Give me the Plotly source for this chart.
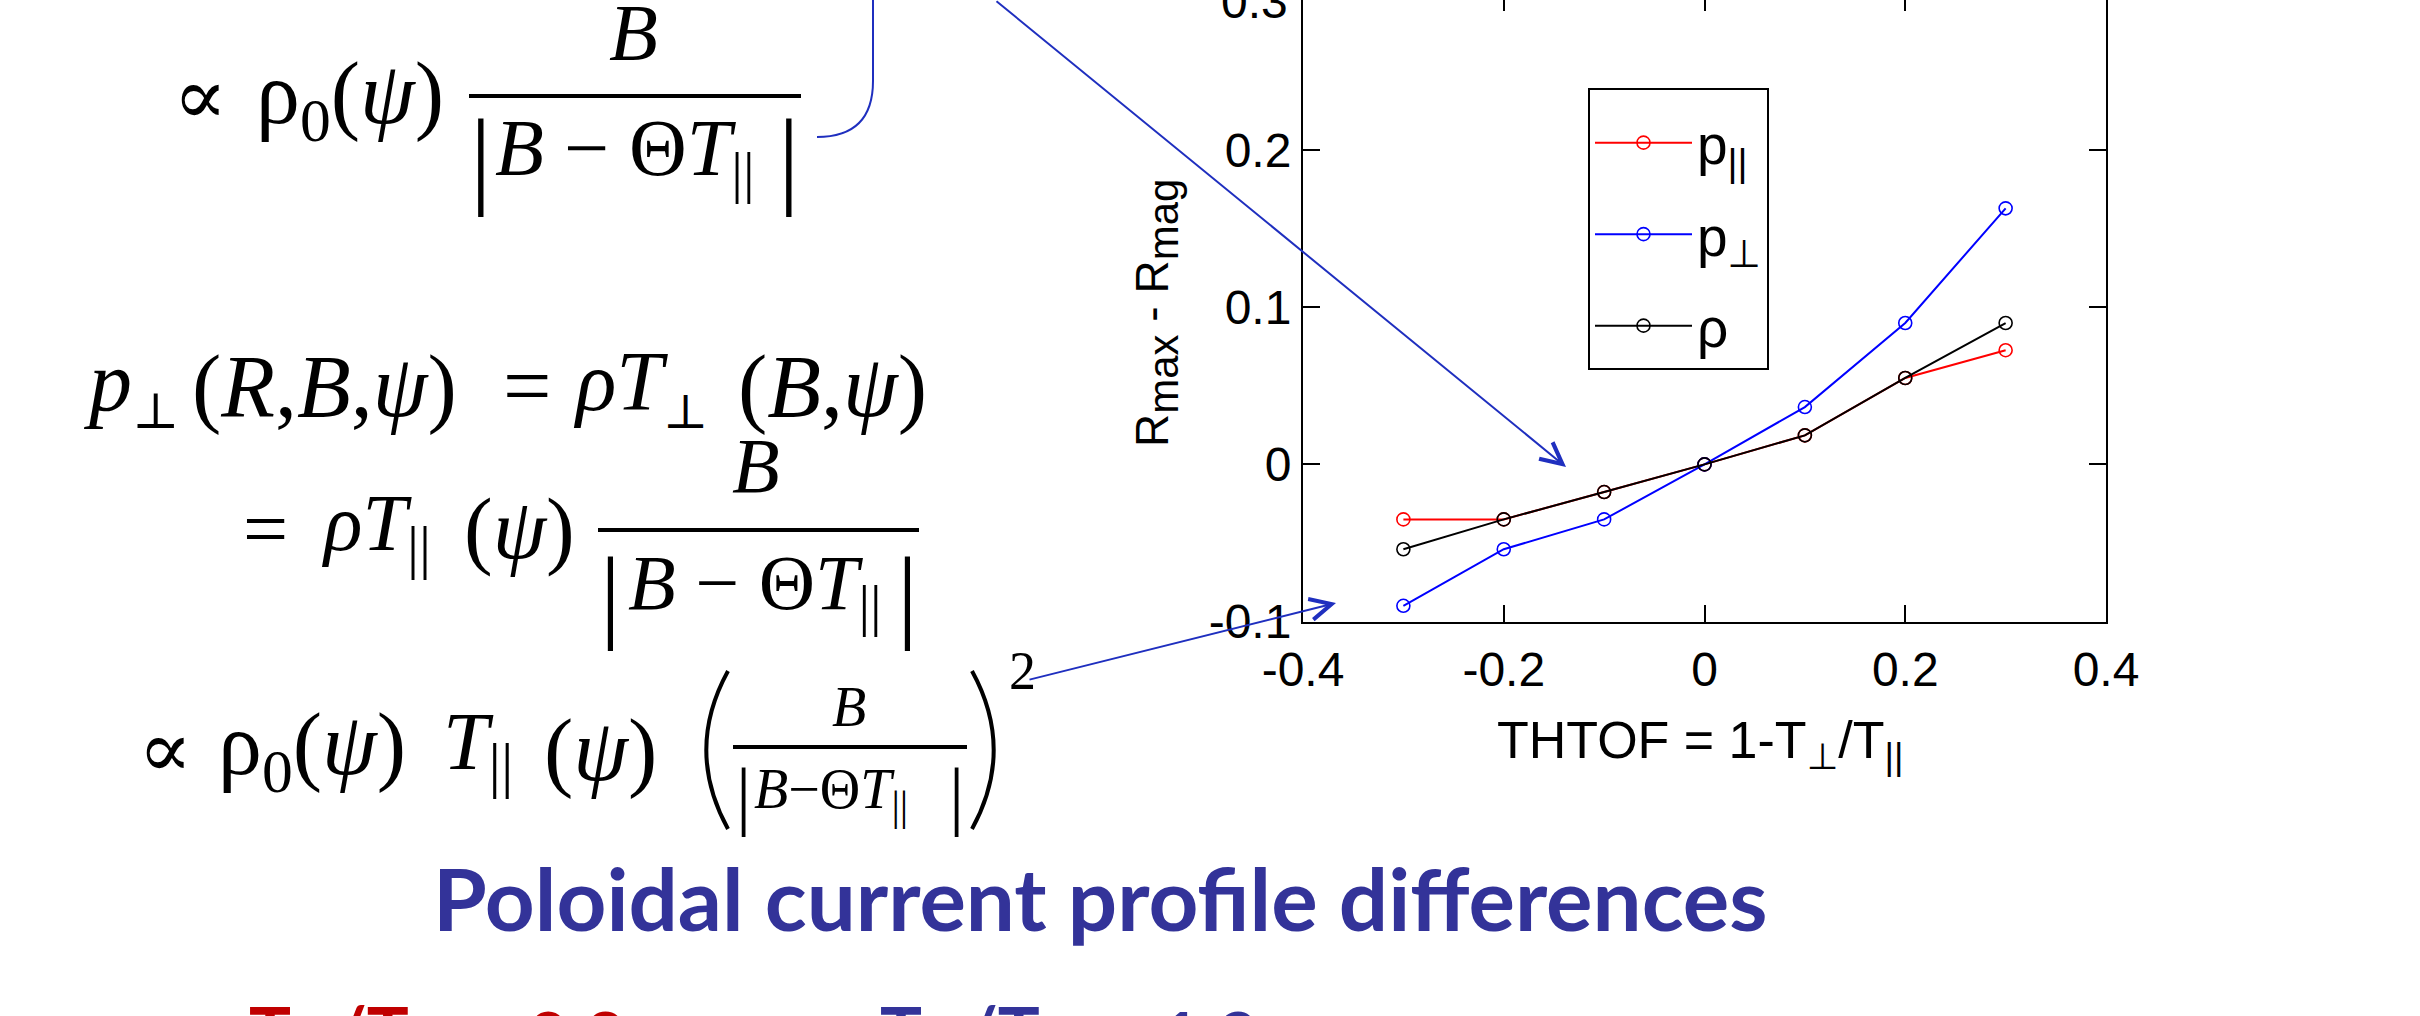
import plotly.graph_objects as go

# THTOF scan: R_max - R_mag for the three profiles
thtof = [-0.3, -0.2, -0.1, 0.0, 0.1, 0.2, 0.3]
r_ppar = [-0.035, -0.035, -0.0176, 0.0, 0.0185, 0.055, 0.0727]
r_pperp = [-0.090, -0.054, -0.035, 0.0, 0.0365, 0.090, 0.163]
r_rho = [-0.054, -0.035, -0.0176, 0.0, 0.0185, 0.055, 0.090]

series_names = ["p<sub>||</sub>", "p<sub>⊥</sub>", "ρ"]
series_colors = ["#ff0000", "#0000ff", "#000000"]

x_ticks = [-0.4, -0.2, 0.0, 0.2, 0.4]
x_ticktext = ["-0.4", "-0.2", "0", "0.2", "0.4"]
y_ticks = [-0.1, 0.0, 0.1, 0.2]
y_ticktext = ["-0.1", "0", "0.1", "0.2"]

W, H = 2420, 1016


def PX(x):
    return x / W


def PY(y):
    return 1 - y / H


SANS = "Liberation Sans, Arial, DejaVu Sans, sans-serif"
SERIF = "Liberation Serif, Times New Roman, DejaVu Serif, serif"
HEAD = "Lato, Liberation Sans, sans-serif"
ARROW_BLUE = "#1f2fbf"
TITLE_BLUE = "#333399"

fig = go.Figure()
for i, (name, ys, col) in enumerate(zip(series_names, [r_ppar, r_pperp, r_rho], series_colors)):
    fig.add_trace(go.Scatter(
        x=thtof, y=ys, name=name, mode="lines+markers", legendgroup=f"g{i}",
        line=dict(color=col, width=2),
        marker=dict(symbol="circle-open", size=13, color=col, line=dict(width=1.6, color=col)),
    ))
# companion axes for the top/right box ticks
fig.add_trace(go.Scatter(x=[], y=[], xaxis="x2", yaxis="y2", showlegend=False, hoverinfo="skip"))

x_dom = [PX(1303), PX(2106)]
y_dom = [PY(621.5), 1.0]
y_range = [-0.1, -0.1 + 621.5 / 1571.0]

tickfont = dict(family=SANS, size=48, color="black")
fig.update_layout(
    width=W, height=H,
    margin=dict(l=0, r=0, t=0, b=0),
    paper_bgcolor="white", plot_bgcolor="white",
    showlegend=True,
    legend=dict(
        x=PX(1588), y=PY(88), xanchor="left", yanchor="top",
        bordercolor="black", borderwidth=2, bgcolor="white",
        font=dict(family=SANS, size=55, color="black"),
        title=dict(text=" ", font=dict(size=8)),
        itemwidth=97, traceorder="grouped", tracegroupgap=17,
    ),
    xaxis=dict(
        domain=x_dom, range=[-0.4, 0.4], anchor="y",
        tickvals=x_ticks, ticktext=x_ticktext, tickfont=tickfont,
        ticks="inside", ticklen=17, tickwidth=2, tickcolor="black",
        showline=True, linecolor="black", linewidth=2,
        showgrid=False, zeroline=False, automargin=False,
        ticklabelstandoff=5,
    ),
    yaxis=dict(
        domain=y_dom, range=y_range, anchor="x",
        tickvals=y_ticks, ticktext=y_ticktext, tickfont=tickfont,
        ticks="inside", ticklen=17, tickwidth=2, tickcolor="black",
        showline=True, linecolor="black", linewidth=2,
        showgrid=False, zeroline=False, automargin=False,
        ticklabelstandoff=0,
    ),
    xaxis2=dict(
        overlaying="x", side="top", anchor="y2", range=[-0.4, 0.4],
        tickvals=x_ticks, showticklabels=False,
        ticks="inside", ticklen=11, tickwidth=2, tickcolor="black",
        showline=False, showgrid=False, zeroline=False, automargin=False,
    ),
    yaxis2=dict(
        overlaying="y", side="right", anchor="x2", range=y_range,
        tickvals=y_ticks, showticklabels=False,
        ticks="inside", ticklen=17, tickwidth=2, tickcolor="black",
        showline=True, linecolor="black", linewidth=2,
        showgrid=False, zeroline=False, automargin=False,
    ),
)

ann = []


def T(x, y, text, size, family=SERIF, color="black", xa="left", ya="middle", angle=0):
    ann.append(dict(
        x=PX(x), y=PY(y), xref="paper", yref="paper", text=text,
        showarrow=False, xanchor=xa, yanchor=ya, textangle=angle,
        font=dict(family=family, size=size, color=color),
    ))


def sub(s, px):
    return f"<sub><span style='font-size:{px}px'>{s}</span></sub>"


# axis titles and clipped top tick label
T(1290, 1, "0.3", 48, family=SANS, xa="right")
T(1156, 313, "R" + sub("max", 42) + " - R" + sub("mag", 42), 46, family=SANS, xa="center", angle=-90)
T(1700, 744, "THTOF = 1-T<sub><span style='color:#000000'>⊥</span></sub>/T<sub>||</sub>", 52,
  family=SANS, xa="center")

# first expression: ∝ ρ0(ψ) B/|B − ΘT||
T(200, 97, "∝", 80, xa="center")
T(254, 99, "ρ<sub>0</sub>(<i>ψ</i>)", 88)
T(633, 33, "<i>B</i>", 80, xa="center")
T(481, 158, "|", 108, xa="center")
T(789, 158, "|", 108, xa="center")
T(493, 155, "<i>B</i> − Θ<i>T</i>" + sub("||", 58), 80)

# p⊥ (R,B,ψ) = ρT⊥ (B,ψ)
T(81, 386, "<i>p</i>" + sub("⊥", 50), 86)
T(190, 386, "(<i>R</i>,<i>B</i>,<i>ψ</i>)", 88)
T(527, 386, "=", 86, xa="center")
T(571, 386, "<i>ρT</i>" + sub("⊥", 48), 84)
T(736, 386, "(<i>B</i>,<i>ψ</i>)", 88)

# = ρT||(ψ) B/|B − ΘT||
T(265, 529, "=", 80, xa="center")
T(319, 529, "<i>ρT</i>" + sub("||", 60), 80)
T(462, 529, "(<i>ψ</i>)", 86)
T(756, 465, "<i>B</i>", 78, xa="center")
T(610, 593, "|", 104, xa="center")
T(907, 593, "|", 104, xa="center")
T(626, 588, "<i>B</i> − Θ<i>T</i>" + sub("||", 58), 78)

# ∝ ρ0(ψ) T||(ψ) (B/|B−ΘT|||)^2
T(165, 750, "∝", 80, xa="center")
T(216, 750, "ρ<sub>0</sub>(<i>ψ</i>)", 88)
T(441, 747, "<i>T</i>" + sub("||", 62), 82)
T(542, 750, "(<i>ψ</i>)", 88)
T(849, 707, "<i>B</i>", 56, xa="center")
T(743, 795, "|", 76, xa="center")
T(956, 795, "|", 76, xa="center")
T(752, 793, "<i>B</i>−Θ<i>T</i>" + sub("||", 42), 56)
T(1022, 671, "2", 54, xa="center")

# headings
T(431, 897, "<b>Poloidal current profile differences</b>", 87, family=HEAD, color=TITLE_BLUE)
T(247, 1036, "<b>T<sub>⊥</sub>/T<sub>||</sub> =</b>", 70, family=HEAD, color="#c00000")
T(526, 1036, "<b>0.8</b>", 70, family=HEAD, color="#c00000")
T(878, 1036, "<b>T<sub>⊥</sub>/T<sub>||</sub> =</b>", 70, family=HEAD, color=TITLE_BLUE)
T(1158, 1036, "<b>1.2</b>", 70, family=HEAD, color=TITLE_BLUE)

# arrows into the plot
for (sx, sy), (hx, hy) in [((995, -10), (1566, 467)), ((1028, 680), (1336, 603))]:
    ann.append(dict(
        x=PX(hx), y=PY(hy), xref="paper", yref="paper", text="",
        showarrow=True, ax=sx - hx, ay=sy - hy, axref="pixel", ayref="pixel",
        arrowhead=5, arrowsize=2.1, arrowwidth=2, arrowcolor=ARROW_BLUE, standoff=0,
    ))

fig.update_layout(annotations=ann)

# fraction bars, large parentheses and bracket connector
shapes = []
for x0, x1, y, w in [(469, 801, 96, 4), (598, 919, 530, 4), (733, 967, 747, 4)]:
    shapes.append(dict(type="line", xref="paper", yref="paper",
                       x0=PX(x0), x1=PX(x1), y0=PY(y), y1=PY(y),
                       line=dict(color="black", width=w)))
for xe, xm in [(728, 700), (972, 1000)]:
    shapes.append(dict(
        type="path", xref="paper", yref="paper",
        path=f"M {PX(xe)},{PY(671)} Q {PX(xm - (xe - xm) * 0.55)},{PY(750)} {PX(xe)},{PY(829)}",
        line=dict(color="black", width=4),
    ))
shapes.append(dict(
    type="path", xref="paper", yref="paper",
    path=f"M {PX(817)},{PY(137)} Q {PX(873)},{PY(137)} {PX(873)},{PY(81)} L {PX(873)},{PY(-5)}",
    line=dict(color=ARROW_BLUE, width=2),
))
fig.update_layout(shapes=shapes)

fig.write_html("out.html")
